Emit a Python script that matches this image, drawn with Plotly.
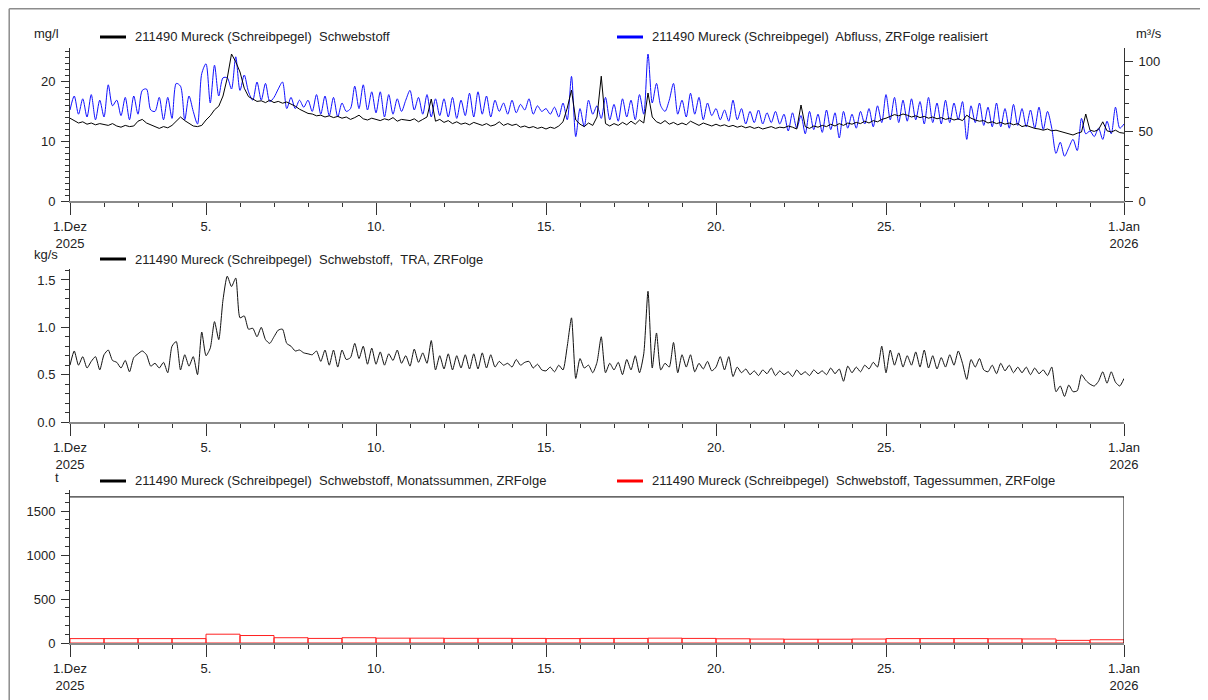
import pandas as pd
import plotly.graph_objects as go

# ---------------- data (3-hourly readings, 1 Dec 2025 00:00 .. 1 Jan 2026 00:00) ----------------
ss_mgl = [  # Schwebstoff, mg/l
    13.8, 13.4, 13.0, 13.2, 12.8, 13.0, 12.7, 12.9,
    12.8, 12.6, 12.9, 12.5, 12.3, 12.6, 12.4, 12.5,
    13.3, 13.6, 13.0, 12.7, 12.3, 12.1, 12.4, 12.2,
    12.6, 13.3, 14.0, 13.4, 12.9, 12.5, 12.4, 12.6,
    13.5, 14.2, 15.2, 15.8, 17.5, 20.5, 24.5, 23.2,
    21.5, 18.8, 17.4, 17.0, 16.6, 16.7, 16.4, 16.8,
    16.4, 16.6, 16.3, 16.5, 16.2, 15.8, 15.3, 14.9,
    14.6, 14.5, 14.2, 14.3, 14.0, 14.2, 13.9, 14.1,
    13.8, 14.0, 13.6, 13.9, 14.3, 13.7, 13.5, 13.8,
    13.6, 13.4, 13.7, 13.5, 13.9, 13.3, 13.6, 13.5,
    13.4, 13.7, 13.2, 13.6, 14.0, 17.0, 13.3, 13.6,
    13.1, 13.4, 12.9, 13.2, 12.8, 13.0, 12.7, 13.1,
    12.8, 12.6, 12.9, 12.5, 12.7, 13.2, 12.6, 12.9,
    12.6, 12.8, 12.3, 12.5, 12.2, 12.4, 12.1, 12.3,
    12.0, 12.3, 12.1, 12.5, 13.2, 15.5, 18.5, 13.5,
    12.8, 12.4, 13.0, 12.6, 14.0, 20.8, 12.9, 12.5,
    12.9, 12.6, 13.1, 12.7, 13.3, 12.8, 13.5, 13.0,
    18.0, 14.0, 13.2, 12.9, 13.4, 12.8, 13.1, 12.7,
    13.0, 12.7, 13.3, 12.9, 12.6, 13.0, 12.8, 12.5,
    12.8, 12.5, 12.7, 12.4, 12.6, 12.3, 12.5, 12.2,
    12.4, 12.1, 12.3, 12.0, 12.2, 12.4, 12.1, 12.3,
    12.2, 12.5, 12.3, 12.0, 16.0, 12.4, 12.1, 12.5,
    12.3, 12.6, 12.4, 12.8, 12.5, 12.9, 12.6, 13.0,
    12.8, 13.1, 12.9, 13.3, 13.0, 13.4, 13.2, 13.6,
    13.8, 14.1, 14.4, 14.2, 14.5, 14.3, 14.0, 14.2,
    13.9, 14.1, 13.8, 14.0, 13.7, 13.9, 13.6, 13.8,
    13.5, 13.7, 13.4, 14.3, 13.8, 13.5, 13.3, 13.4,
    13.0, 13.2, 12.9, 13.1, 12.8, 13.0, 12.7, 12.9,
    12.4, 12.6, 12.3, 12.1, 12.0, 11.8, 12.0, 11.7,
    11.8, 11.6, 11.4, 11.2, 11.0, 11.3, 11.5, 14.5,
    11.8, 11.6, 11.9, 13.2, 11.7, 11.5, 11.8, 11.4,
    11.3,
]

q_m3s = [  # Abfluss, m3/s
    65, 75, 62, 73, 60, 76, 58, 72,
    60, 83, 68, 72, 61, 74, 58, 75,
    62, 79, 80, 65, 64, 74, 58, 74,
    59, 84, 82, 58, 75, 64, 55, 91,
    98, 70, 97, 75, 88, 88, 80, 103,
    79, 90, 78, 72, 85, 72, 84, 71,
    74, 80, 85, 66, 74, 66, 72, 67,
    72, 64, 76, 62, 75, 61, 74, 60,
    70, 64, 66, 82, 66, 83, 65, 78,
    63, 78, 60, 76, 62, 73, 64, 72,
    79, 65, 74, 62, 76, 60, 73, 61,
    73, 60, 74, 59, 72, 61, 77, 60,
    78, 62, 75, 60, 72, 64, 70, 62,
    72, 63, 69, 65, 73, 62, 68, 64,
    66, 62, 67, 60, 70, 58, 89, 46,
    66, 53, 72, 62, 68, 59, 74, 58,
    69, 57, 73, 60, 72, 58, 76, 62,
    105, 70, 84, 68, 64, 72, 84, 62,
    72, 60, 77, 62, 74, 58, 70, 61,
    66, 58, 65, 57, 72, 58, 66, 55,
    64, 56, 65, 55, 63, 56, 64, 55,
    62, 50, 63, 52, 61, 48, 64, 51,
    62, 49, 65, 51, 63, 45, 64, 52,
    62, 52, 64, 55, 66, 53, 68, 56,
    76, 58, 74, 56, 72, 57, 73, 58,
    71, 55, 74, 56, 70, 55, 72, 56,
    70, 58, 71, 44, 68, 56, 70, 54,
    67, 53, 70, 53, 66, 52, 69, 54,
    66, 53, 65, 52, 67, 51, 64, 52,
    34, 42, 32, 38, 44, 36, 59, 48,
    50, 46, 52, 44, 57, 48, 67, 52,
    55,
]

tra_kgs = [  # Schwebstoff TRA, kg/s
    0.60, 0.75, 0.60, 0.69, 0.57, 0.64, 0.69, 0.55,
    0.71, 0.76, 0.65, 0.63, 0.57, 0.65, 0.53, 0.68,
    0.72, 0.75, 0.71, 0.59, 0.62, 0.57, 0.63, 0.52,
    0.80, 0.85, 0.55, 0.71, 0.59, 0.69, 0.50, 0.95,
    0.70, 0.78, 1.06, 0.87, 1.29, 1.54, 1.43, 1.52,
    1.10, 1.12, 0.98, 0.99, 0.90, 1.00, 0.87, 0.83,
    0.90, 0.97, 0.98, 0.83, 0.80, 0.75, 0.76, 0.73,
    0.72, 0.71, 0.75, 0.64, 0.76, 0.60, 0.76, 0.58,
    0.76, 0.66, 0.68, 0.83, 0.67, 0.80, 0.61, 0.78,
    0.61, 0.74, 0.60, 0.72, 0.65, 0.76, 0.62, 0.70,
    0.59, 0.77, 0.63, 0.73, 0.62, 0.86, 0.55, 0.70,
    0.56, 0.72, 0.55, 0.70, 0.57, 0.71, 0.56, 0.72,
    0.56, 0.73, 0.57, 0.71, 0.58, 0.64, 0.60, 0.62,
    0.58, 0.66, 0.60, 0.63, 0.64, 0.57, 0.61, 0.55,
    0.54, 0.58, 0.53, 0.60, 0.55, 0.80, 1.10, 0.46,
    0.67, 0.57, 0.60, 0.52, 0.63, 0.90, 0.52, 0.62,
    0.55, 0.63, 0.50, 0.66, 0.55, 0.70, 0.52, 0.72,
    1.38, 0.57, 0.94, 0.55, 0.62, 0.58, 0.84, 0.52,
    0.71, 0.58, 0.71, 0.53, 0.62, 0.56, 0.64, 0.54,
    0.58, 0.69, 0.55, 0.69, 0.48, 0.58, 0.52, 0.56,
    0.50, 0.54, 0.49, 0.55, 0.51, 0.57, 0.49, 0.54,
    0.50, 0.53, 0.48, 0.55, 0.50, 0.53, 0.49, 0.55,
    0.51, 0.54, 0.50, 0.57, 0.51, 0.56, 0.43, 0.59,
    0.52, 0.58, 0.53, 0.60, 0.56, 0.63, 0.58, 0.80,
    0.52, 0.76, 0.60, 0.73, 0.58, 0.70, 0.60, 0.74,
    0.58, 0.76, 0.57, 0.70, 0.56, 0.68, 0.58, 0.71,
    0.60, 0.75, 0.62, 0.45, 0.66, 0.58, 0.67, 0.55,
    0.53, 0.60, 0.51, 0.62, 0.54, 0.60, 0.52, 0.58,
    0.52, 0.58, 0.50, 0.57, 0.51, 0.55, 0.49, 0.58,
    0.32, 0.38, 0.27, 0.39, 0.32, 0.33, 0.50, 0.44,
    0.40, 0.38, 0.43, 0.53, 0.41, 0.53, 0.42, 0.38,
    0.46,
]

daily_t = [50, 50, 50, 50, 100, 85, 60, 52, 60, 55, 55, 53, 53, 52, 50, 52,
           52, 55, 52, 48, 45, 43, 43, 45, 50, 50, 50, 48, 46, 30, 37]  # Tagessummen, t
monthly_t = 1660  # Monatssumme Dezember, t

tick_dates = ["2025-12-01", "2025-12-05", "2025-12-10", "2025-12-15",
              "2025-12-20", "2025-12-25", "2026-01-01"]
tick_labels = ["1.Dez<br>2025", "5.", "10.", "15.", "20.", "25.", "1.Jan<br>2026"]

name_ss = "211490 Mureck (Schreibpegel)  Schwebstoff"
name_q = "211490 Mureck (Schreibpegel)  Abfluss, ZRFolge realisiert"
name_tra = "211490 Mureck (Schreibpegel)  Schwebstoff,  TRA, ZRFolge"
name_mon = "211490 Mureck (Schreibpegel)  Schwebstoff, Monatssummen, ZRFolge"
name_day = "211490 Mureck (Schreibpegel)  Schwebstoff, Tagessummen, ZRFolge"

# ---------------- layout helpers ----------------
# The page body keeps its default 8 px margin, so the figure starts at (8, 8) of the window.
OFF = 8
W, H = 1200, 692
FONT = "Arial, 'Liberation Sans', sans-serif"
TXT = "#222222"
FS = 13


def fx(p):
    return (p - OFF) / W


def fy(p):
    return 1 - (p - OFF) / H


times = pd.date_range("2025-12-01", periods=len(ss_mgl), freq="3h")
day_starts = pd.date_range("2025-12-01", periods=len(daily_t), freq="D")
day_centers = day_starts + pd.Timedelta(hours=12)
month_span = [pd.Timestamp("2025-12-01"), pd.Timestamp("2026-01-01")]

fig = go.Figure()

# Panel 1: discharge (base axis, right side) and concentration (overlay, left side, drawn on top)
fig.add_trace(go.Scatter(x=times, y=q_m3s, name=name_q, mode="lines",
                         line=dict(color="#1010ff", width=1, shape="spline", smoothing=0.8),
                         xaxis="x", yaxis="y", showlegend=False))
fig.add_trace(go.Scatter(x=times, y=ss_mgl, name=name_ss, mode="lines",
                         line=dict(color="black", width=1), xaxis="x", yaxis="y2",
                         showlegend=False))
# Panel 2: transport
fig.add_trace(go.Scatter(x=times, y=tra_kgs, name=name_tra, mode="lines",
                         line=dict(color="#111111", width=1, shape="spline", smoothing=0.6),
                         xaxis="x2", yaxis="y3", showlegend=False))
# Panel 3: daily and monthly sums
fig.add_trace(go.Bar(x=day_centers, y=daily_t, name=name_day, width=86400000,
                     marker=dict(color="rgba(0,0,0,0)", line=dict(color="#ff2020", width=1)),
                     xaxis="x3", yaxis="y4", showlegend=False))
fig.add_trace(go.Scatter(x=month_span, y=[monthly_t, 0], name=name_mon, mode="lines",
                         line=dict(color="black", width=1, shape="hv"),
                         xaxis="x3", yaxis="y4", showlegend=False))


def xaxis(anchor):
    return dict(
        type="date", range=["2025-12-01", "2026-01-01"], domain=[fx(70), fx(1124)],
        anchor=anchor, tickmode="array", tickvals=tick_dates, ticktext=tick_labels,
        ticks="outside", ticklen=12, tickwidth=1, tickcolor="#333333",
        showline=True, linecolor="#8a8a8a", linewidth=2, showgrid=False, zeroline=False,
        tickfont=dict(family=FONT, size=FS, color=TXT), automargin=False,
        minor=dict(dtick=86400000, tick0="2025-12-01", ticks="outside", ticklen=4,
                   tickwidth=1, tickcolor="#333333", showgrid=False),
    )


def yaxis(domain, rng, dtick, minor, side="left", **kw):
    d = dict(
        domain=domain, range=rng, dtick=dtick, tick0=0, side=side,
        ticks="outside", ticklen=8, tickwidth=1, tickcolor="#333333",
        showline=True, linecolor="#333333", linewidth=1, showgrid=False, zeroline=False,
        tickfont=dict(family=FONT, size=FS, color=TXT), automargin=False,
        ticklabelstandoff=3,
        minor=dict(dtick=minor, tick0=0, ticks="outside", ticklen=4, tickwidth=1,
                   tickcolor="#333333", showgrid=False),
        fixedrange=True,
    )
    d.update(kw)
    return d


dom1 = [fy(201), fy(48)]
dom2 = [fy(422), fy(269)]
dom3 = [fy(643), fy(490)]

fig.update_layout(
    width=W, height=H, template="none",
    paper_bgcolor="white", plot_bgcolor="rgba(0,0,0,0)",
    margin=dict(l=0, r=0, t=0, b=0),
    font=dict(family=FONT, size=FS, color=TXT),
    showlegend=False,
    bargap=0,
    xaxis=xaxis("y"),
    xaxis2=xaxis("y3"),
    xaxis3=xaxis("y4"),
    yaxis=yaxis(dom1, [0, 153 / 1.4], 50, 10, side="right", anchor="x"),
    yaxis2=yaxis(dom1, [0, 153 / 6.0], 10, 1, side="left", anchor="x", overlaying="y"),
    yaxis3=yaxis(dom2, [0, 153 / 94.7], 0.5, 0.1, anchor="x2", tickformat=".1f"),
    yaxis4=yaxis(dom3, [0, 153 / 0.088], 500, 100, anchor="x3"),
)

shapes = []
annotations = []

# window border (top and left edge of the figure)
shapes.append(dict(type="line", xref="paper", yref="paper", x0=0.001, x1=1.0, y0=0.999, y1=0.999,
                   line=dict(color="#8c8c8c", width=1.5)))
shapes.append(dict(type="line", xref="paper", yref="paper", x0=0.001, x1=0.001, y0=0.999, y1=0,
                   line=dict(color="#8c8c8c", width=1.5)))

# legend keys and labels
legend_items = [
    (100, 37, "black", name_ss),
    (617, 37, "#0000ff", name_q),
    (100, 259, "black", name_tra),
    (100, 481, "black", name_mon),
    (617, 481, "#ff0000", name_day),
]
for x0, y0, col, label in legend_items:
    shapes.append(dict(type="line", xref="paper", yref="paper",
                       x0=fx(x0), x1=fx(x0 + 26), y0=fy(y0), y1=fy(y0),
                       line=dict(color=col, width=3)))
    annotations.append(dict(xref="paper", yref="paper", x=fx(x0 + 33), y=fy(y0),
                            text=label, showarrow=False, xanchor="left", yanchor="middle",
                            font=dict(family=FONT, size=FS, color=TXT)))

# unit labels
for x0, y0, label in [(46, 33, "mg/l"), (1149, 33, "m³/s"), (46, 255, "kg/s"), (57, 477, "t")]:
    annotations.append(dict(xref="paper", yref="paper", x=fx(x0), y=fy(y0), text=label,
                            showarrow=False, xanchor="center", yanchor="middle",
                            font=dict(family=FONT, size=FS, color=TXT)))

fig.update_layout(shapes=shapes, annotations=annotations)

fig.write_html("out.html", config={"displayModeBar": False, "staticPlot": True})
